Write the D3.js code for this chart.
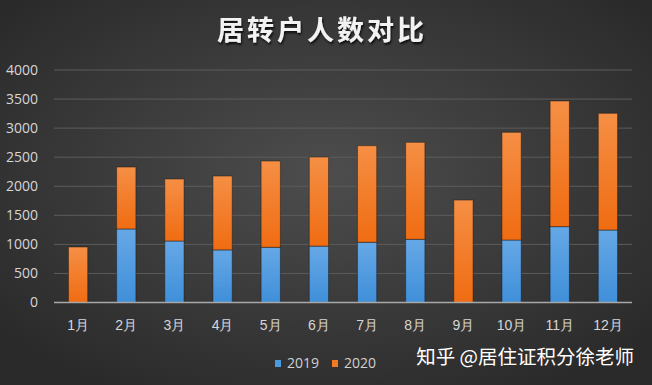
<!DOCTYPE html>
<html>
<head>
<meta charset="utf-8">
<script src="https://d3js.org/d3.v7.min.js"></script>
<style>
body { margin: 0; background: #2e2e2e; }
svg { display: block; font-family: "Noto Sans CJK SC", "Open Sans", sans-serif; }
</style>
</head>
<body>
<svg width="652" height="385"></svg>
<script>
var months = ["1月", "2月", "3月", "4月", "5月", "6月", "7月", "8月", "9月", "10月", "11月", "12月"];
var v2019 = [0, 1265, 1058, 905, 950, 970, 1036, 1087, 0, 1075, 1305, 1247];
var v2020 = [955, 1066, 1067, 1271, 1484, 1533, 1662, 1669, 1763, 1853, 2162, 2008];
var yTicks = [0, 500, 1000, 1500, 2000, 2500, 3000, 3500, 4000];
var seriesNames = ["2019", "2020"];

var svg = d3.select("svg"),
    W = 652, H = 385;

var defs = svg.append("defs");
var bg = defs.append("radialGradient").attr("id", "bg")
    .attr("cx", "50%").attr("cy", "45%").attr("r", "65%");
bg.append("stop").attr("offset", "0%").attr("stop-color", "#4d4d4d");
bg.append("stop").attr("offset", "100%").attr("stop-color", "#2a2a2a");

var gOr = defs.append("linearGradient").attr("id", "gor").attr("x1", 0).attr("y1", 0).attr("x2", 0).attr("y2", 1);
gOr.append("stop").attr("offset", "0%").attr("stop-color", "#f58f45");
gOr.append("stop").attr("offset", "100%").attr("stop-color", "#f06c12");
var gBl = defs.append("linearGradient").attr("id", "gbl").attr("x1", 0).attr("y1", 0).attr("x2", 0).attr("y2", 1);
gBl.append("stop").attr("offset", "0%").attr("stop-color", "#66a8e6");
gBl.append("stop").attr("offset", "100%").attr("stop-color", "#3f8fd9");

var shadow = defs.append("filter").attr("id", "tsh");
shadow.append("feDropShadow").attr("dx", 1).attr("dy", 2).attr("stdDeviation", 1.2)
    .attr("flood-color", "#000").attr("flood-opacity", 0.8);

svg.append("rect").attr("width", W).attr("height", H).attr("fill", "url(#bg)");

// title
svg.append("text")
    .attr("x", 322).attr("y", 40)
    .attr("text-anchor", "middle")
    .attr("fill", "#f2f2f2")
    .attr("filter", "url(#tsh)")
    .style("font-size", "27px")
    .style("font-weight", "bold")
    .style("letter-spacing", "3px")
    .text("居转户人数对比");

var pLeft = 54, pRight = 632, pTop = 70, pBottom = 302.5;

var x = d3.scaleBand().domain(months).range([pLeft, pRight]).paddingInner(0.6).paddingOuter(0.3);
var y = d3.scaleLinear().domain([0, 4000]).range([pBottom, pTop]);

// grid
svg.append("g").selectAll("line").data(yTicks.slice(1)).enter().append("line")
    .attr("x1", pLeft).attr("x2", pRight)
    .attr("y1", function (d) { return y(d); })
    .attr("y2", function (d) { return y(d); })
    .attr("stroke", "#5c5c5c").attr("stroke-width", 1);

// y labels
var yAxis = svg.append("g")
    .attr("transform", "translate(" + 38 + ",0)")
    .call(d3.axisLeft(y).tickValues(yTicks).tickFormat(d3.format("d")).tickSize(0).tickPadding(0));
yAxis.select(".domain").remove();
yAxis.selectAll("text").attr("fill", "#d6d6d6").style("font-size", "14px")
    .style("font-family", "'Open Sans', sans-serif");

// stacked bars
var rows = months.map(function (m, i) { return { m: m, a: v2019[i], b: v2020[i] }; });
var stack = d3.stack().keys(["a", "b"])(rows);
var fills = ["url(#gbl)", "url(#gor)"];

svg.append("g").selectAll("g").data(stack).enter().append("g")
    .attr("fill", function (d, i) { return fills[i]; })
    .selectAll("rect").data(function (d) { return d.filter(function (p) { return p[1] - p[0] > 0; }); })
    .enter().append("rect")
    .attr("x", function (d) { return x(d.data.m); })
    .attr("width", x.bandwidth())
    .attr("y", function (d) { return y(d[1]); })
    .attr("height", function (d) { return y(d[0]) - y(d[1]); })
    .attr("stroke", "rgba(20,20,20,0.45)").attr("stroke-width", 1);

// baseline
svg.append("line").attr("x1", pLeft).attr("x2", pRight)
    .attr("y1", y(0)).attr("y2", y(0))
    .attr("stroke", "#a8a8a8").attr("stroke-width", 1.5);

// x labels
var xAxis = svg.append("g")
    .attr("transform", "translate(0," + 320 + ")")
    .call(d3.axisBottom(x).tickSize(0).tickPadding(0));
xAxis.select(".domain").remove();
xAxis.selectAll("text").attr("fill", "#d6d6d6").style("font-size", "14px");

// legend
var legColors = ["#4b9be0", "#f27a22"];
var leg = svg.selectAll(".leg").data(seriesNames).enter().append("g")
    .attr("class", "leg")
    .attr("transform", function (d, i) { return "translate(" + (275 + i * 57) + ",360)"; });
leg.append("rect").attr("width", 6).attr("height", 7).attr("y", 0)
    .attr("fill", function (d, i) { return legColors[i]; });
leg.append("text").attr("x", 12).attr("y", 8)
    .attr("fill", "#d0d0d0").style("font-size", "14px")
    .style("font-family", "'Open Sans', sans-serif")
    .text(function (d) { return d; });

// watermark
svg.append("text")
    .attr("x", 634).attr("y", 364)
    .attr("text-anchor", "end")
    .attr("fill", "#ffffff")
    .style("font-size", "19.5px")
    .text("知乎 @居住证积分徐老师");
</script>
</body>
</html>
